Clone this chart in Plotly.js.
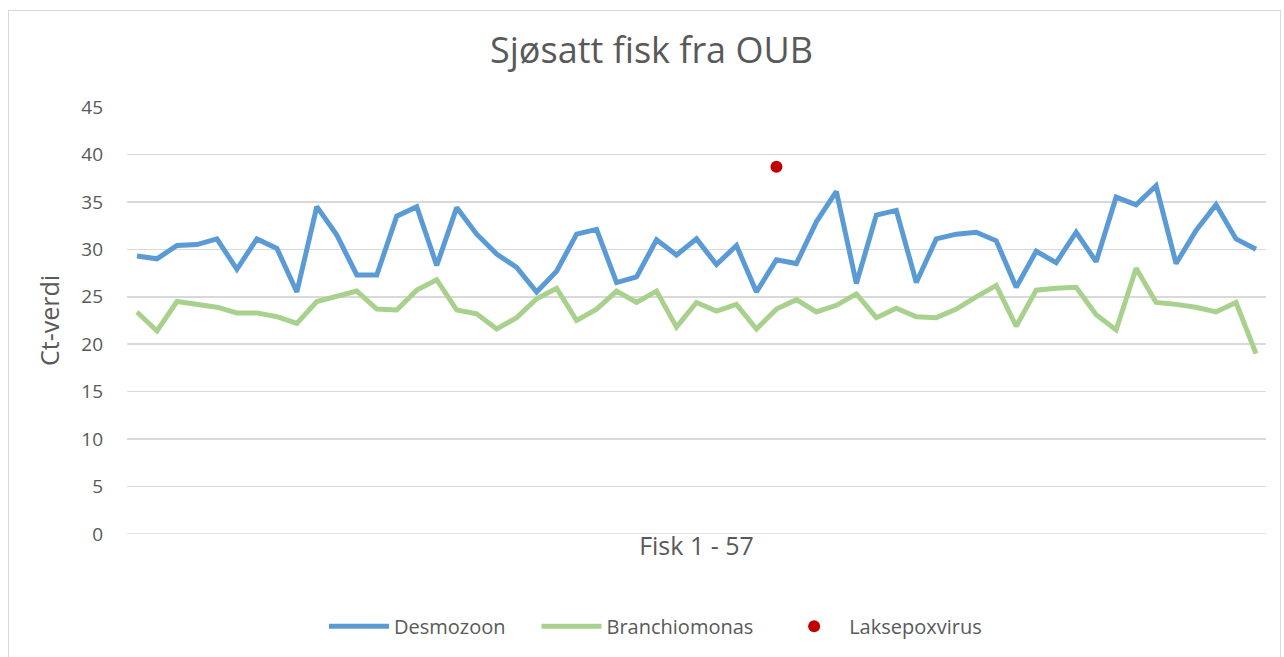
<!DOCTYPE html>
<html>
<head>
<meta charset="utf-8">
<script src="https://cdn.plot.ly/plotly-3.0.1.min.js"></script>
<style>
html,body{margin:0;padding:0;background:#fff;}
#chart{width:1284px;height:657px;position:relative;}
#frame{position:absolute;left:8px;top:10px;width:1271px;height:660px;border:1px solid #d9d9d9;pointer-events:none;}
</style>
</head>
<body>
<div id="chart"></div>
<div id="frame"></div>
<script>
const fish = Array.from({length: 57}, (_, i) => i + 1);
const desmozoon = [29.3,29.0,30.4,30.5,31.1,27.9,31.1,30.1,25.5,34.5,31.5,27.3,27.3,33.5,34.5,28.3,34.4,31.6,29.5,
  28.1,25.5,27.7,31.6,32.1,26.5,27.1,31.0,29.4,31.1,28.4,30.4,25.5,28.9,28.5,32.9,36.1,26.4,33.6,34.1,26.5,
  31.1,31.6,31.8,30.9,26.0,29.8,28.6,31.8,28.7,35.5,34.7,36.7,28.5,32.0,34.7,31.1,30.0];
const branchiomonas = [23.4,21.4,24.5,24.2,23.9,23.3,23.3,22.9,22.2,24.5,25.1,25.6,23.7,23.6,25.7,26.8,23.6,23.2,21.6,
  22.8,24.8,25.9,22.5,23.7,25.6,24.4,25.6,21.8,24.4,23.5,24.2,21.6,23.7,24.7,23.4,24.1,25.3,22.8,23.8,22.9,
  22.8,23.7,25.0,26.2,21.9,25.7,25.9,26.0,23.1,21.5,28.0,24.4,24.2,23.9,23.4,24.4,19.0];
const laksepoxFish = [33];
const laksepox = [38.7];
const yTicks = [0,5,10,15,20,25,30,35,40,45];

const txt = '#595959';
const font = 'Open Sans, sans-serif';
const data = [
  {x: fish, y: desmozoon, name: 'Desmozoon\u00a0\u00a0\u00a0\u00a0\u00a0', type: 'scatter', mode: 'lines',
   line: {color: '#5B9BD5', width: 5}},
  {x: fish, y: branchiomonas, name: 'Branchiomonas\u00a0\u00a0\u00a0\u00a0', type: 'scatter', mode: 'lines',
   line: {color: '#A9D18E', width: 5}},
  {x: laksepoxFish, y: laksepox, name: 'Laksepoxvirus', type: 'scatter', mode: 'markers',
   marker: {color: '#C00000', size: 12}}
];
const layout = {
  width: 1284, height: 657,
  margin: {l: 127, r: 18, t: 107, b: 122},
  paper_bgcolor: '#fff', plot_bgcolor: '#fff',
  font: {family: font, color: txt},
  title: {text: 'Sjøsatt fisk fra OUB', x: 0.5074, xanchor: 'center', y: 0.923, yanchor: 'middle',
          font: {size: 36, color: txt, family: font}},
  xaxis: {range: [0.5, 57.5], showticklabels: false, showgrid: false, zeroline: false, showline: false,
          ticks: '', title: {text: 'Fisk 1 - 57', font: {size: 25, color: txt}, standoff: 3}},
  yaxis: {range: [0, 45], tickvals: yTicks, ticktext: yTicks.map(String), showgrid: true,
          gridcolor: '#d9d9d9', gridwidth: 1.5, zeroline: false, showline: false, ticks: '',
          tickfont: {size: 19, color: txt}, ticklabelstandoff: 23,
          title: {text: 'Ct-verdi', font: {size: 25, color: txt}, standoff: 14}},
  shapes: [{type: 'line', xref: 'paper', yref: 'y', x0: 0, x1: 1, y0: 0, y1: 0,
            line: {color: '#d9d9d9', width: 1.5}}],
  legend: {orientation: 'h', x: 0.464, xanchor: 'center', y: -0.213, yanchor: 'middle',
           font: {size: 20, color: txt}, itemwidth: 60, tracegroupgap: 0},
  showlegend: true
};
Plotly.newPlot('chart', data, layout, {displayModeBar: false, staticPlot: true});
</script>
</body>
</html>
